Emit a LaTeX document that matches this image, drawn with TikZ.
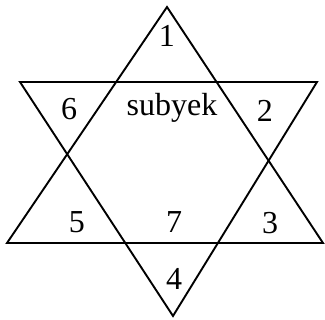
\documentclass[tikz,border=0pt]{standalone}
\usepackage{fontspec}
\setmainfont{Liberation Serif}
\begin{document}
\begin{tikzpicture}[x=1pt,y=-1pt,
  edge/.style={line width=1.9pt, line join=miter, black},
  lbl/.style={anchor=base, inner sep=0pt, font=\fontsize{32}{32}\selectfont}]
\useasboundingbox (0,0) rectangle (325,320);
% upward triangle
\coordinate (ua) at (167,7);
\coordinate (ul) at (7,243);
\coordinate (ur) at (323,243);
% downward triangle
\coordinate (dl) at (20,82);
\coordinate (dr) at (317,82);
\coordinate (da) at (173,316);
\draw[edge] (ua) -- (ul) -- (ur) -- cycle;
\draw[edge] (dl) -- (dr) -- (da) -- cycle;
% labels
\node[lbl] (n1) at (167,47) {1};
\node[lbl] (n6) at (69,120) {6};
\node[lbl] (ns) at (172,116) {subyek};
\node[lbl] (n2) at (265,122) {2};
\node[lbl] (n5) at (77,233) {5};
\node[lbl] (n7) at (174,233) {7};
\node[lbl] (n3) at (270,234) {3};
\node[lbl] (n4) at (174,290) {4};
\end{tikzpicture}
\end{document}
